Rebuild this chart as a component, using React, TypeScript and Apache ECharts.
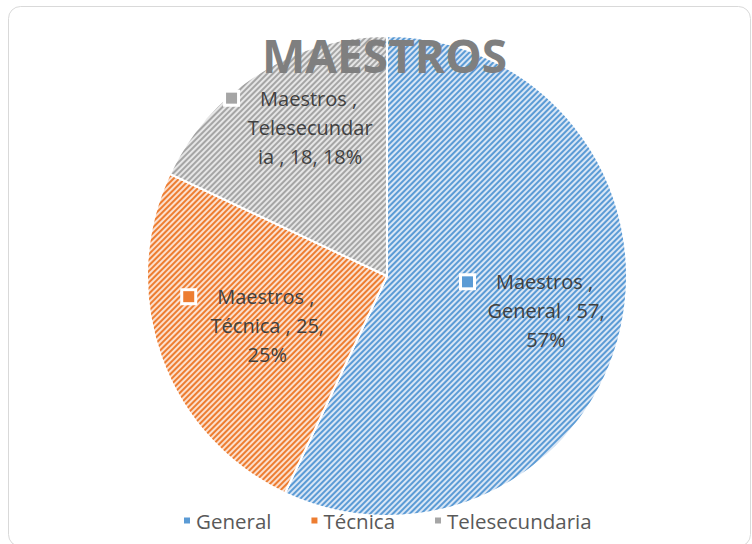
import React, { useEffect, useRef } from "react";
import * as echarts from "echarts";

const seriesName = "Maestros";
const titleText = "MAESTROS";
const categories = ["General", "Técnica", "Telesecundaria"];
const values = [57, 25, 18];

const stripeColors = ["#5b9bd5", "#ed7d31", "#a5a5a5"];
const baseColors = ["#d9e6f5", "#fbdfcd", "#e6e6e6"];
const labelOffsets: [number, number][] = [
  [39, 8],
  [-4, 8],
  [-11, -45],
];

function wrapLabel(p: any): string {
  const first = `{m${p.dataIndex}|}{s|}{t|${p.seriesName} ,}{e|}`;
  const line2 = `${p.name} , ${p.value},`;
  if (line2.length <= 13) {
    return `${first}\n{t|${line2}}\n{t|${p.percent}%}`;
  }
  const a = p.name.slice(0, 12);
  const b = p.name.slice(12);
  return `${first}\n{t|${a}}\n{t|${b} , ${p.value}, ${p.percent}%}`;
}

export default function App() {
  const ref = useRef<HTMLDivElement>(null);
  useEffect(() => {
    if (!ref.current) return;
    const chart = echarts.init(ref.current, undefined, { renderer: "svg" });
    const font = "'Open Sans', 'Noto Sans', sans-serif";
    const rich: any = {
      t: { fontFamily: font, fontSize: 20, color: "#404040", lineHeight: 29 },
      s: { width: 23 },
      e: { width: 37 },
    };
    stripeColors.forEach((c, i) => {
      rich["m" + i] = {
        width: 11,
        height: 11,
        backgroundColor: c,
        borderColor: "#ffffff",
        borderWidth: 3,
      };
    });
    chart.setOption({
      animation: false,
      backgroundColor: "#ffffff",
      graphic: [
        {
          type: "rect",
          silent: true,
          z: -10,
          shape: { x: 8.5, y: 6.5, width: 742, height: 540, r: 12 },
          style: { fill: "none", stroke: "#d9d9d9", lineWidth: 1 },
        },
      ],
      title: {
        text: titleText,
        left: 257,
        top: 27,
        textStyle: {
          fontFamily: font,
          fontWeight: "bold",
          fontSize: 46,
          color: "#7f7f7f",
        },
        z: 10,
      },
      legend: {
        bottom: 8,
        left: 177,
        icon: "rect",
        itemWidth: 8,
        itemHeight: 8,
        itemGap: 38,
        textStyle: { fontFamily: font, fontSize: 20.5, color: "#595959" },
        data: categories.map((c, i) => ({
          name: c,
          itemStyle: { color: stripeColors[i], decal: "none" },
        })),
      },
      series: [
        {
          type: "pie",
          name: seriesName,
          center: [387, 276],
          radius: [0, 240],
          startAngle: 90,
          clockwise: true,
          label: {
            show: true,
            position: "inside",
            formatter: wrapLabel,
            rich,
            align: "center",
          },
          labelLine: { show: false },
          emphasis: { disabled: true },
          itemStyle: { borderColor: "#ffffff", borderWidth: 2 },
          data: categories.map((c, i) => ({
            name: c,
            value: values[i],
            label: { offset: labelOffsets[i] },
            itemStyle: {
              color: baseColors[i],
              decal: {
                symbol: "rect",
                symbolSize: 1,
                color: stripeColors[i],
                dashArrayX: [1, 0],
                dashArrayY: [2, 2],
                rotation: -Math.PI / 4,
              },
            },
          })),
        },
      ],
    });
    return () => chart.dispose();
  }, []);
  return (
    <div
      ref={ref}
      style={{ position: "fixed", left: 0, top: 0, width: 752, height: 544 }}
    />
  );
}
